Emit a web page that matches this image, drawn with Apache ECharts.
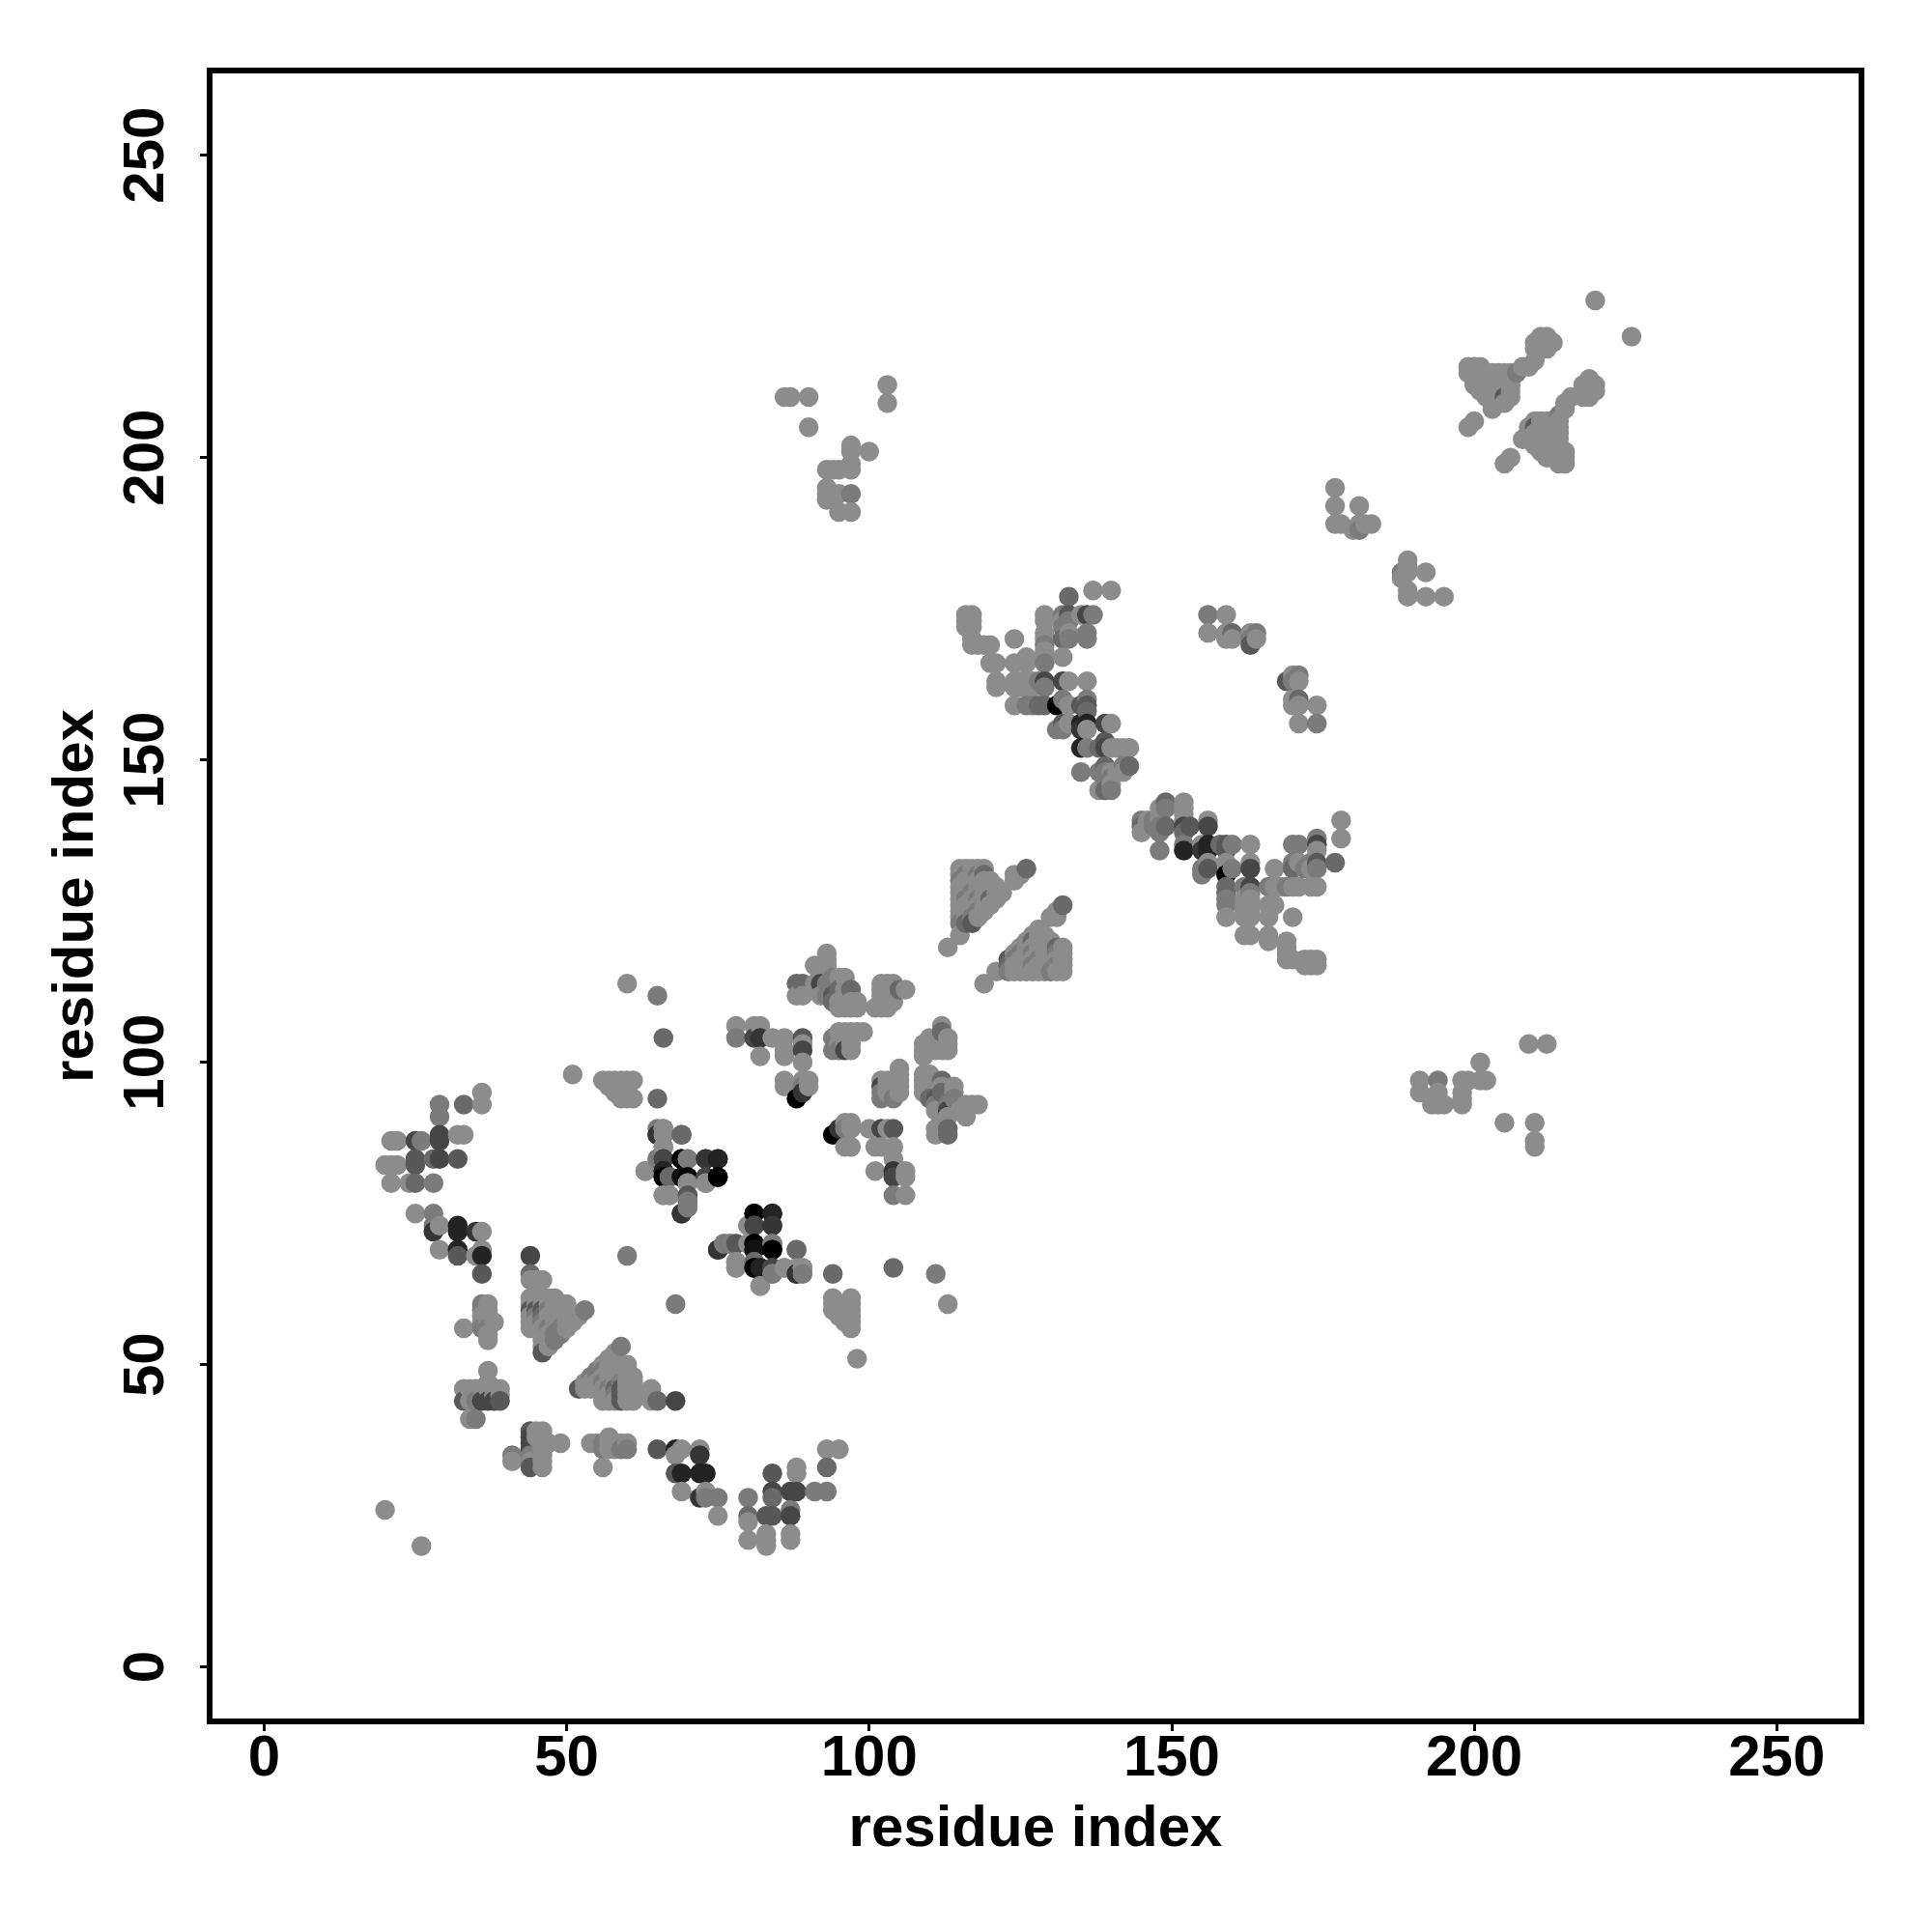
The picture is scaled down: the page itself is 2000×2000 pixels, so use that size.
<!DOCTYPE html>
<html><head><meta charset="utf-8">
<style>html,body{margin:0;padding:0;background:#fff}#c{width:2000px;height:2000px}</style>
<script src="https://cdn.jsdelivr.net/npm/echarts@6/dist/echarts.min.js"></script>
</head><body><div id="c"></div>
<script>
// [residue a, residue b, contact darkness 0..8]; the map is symmetric so each pair is listed once
const xName = 'residue index';
const yName = 'residue index';
const tickValues = [0, 50, 100, 150, 200, 250];
const isolated = [[20,26,0],[51,98,0],[60,68,1],[60,113,0],[65,111,1],[66,104,2],[65,94,2]];
const cluster25to36 = [[36,95,0],[36,93,0],[33,93,2],[29,93,1],[29,91,1],[29,88,4],[29,87,4],[32,88,0],[33,88,0],[21,87,0],[22,87,0],[25,87,4],[26,87,1],[25,84,3],[25,83,3],[28,84,2],[29,84,4],[32,84,3],[20,83,0],[21,83,0],[22,83,0],[21,80,0],[24,80,0],[25,80,2],[28,80,1],[25,75,0],[28,75,1],[28,72,5],[28,73,1],[29,73,0],[32,72,6],[32,73,6],[35,72,5],[36,72,0],[29,69,0],[32,68,3],[32,69,6],[36,68,6],[35,68,0],[36,69,0],[36,65,3]];
const cluster44to53 = [[44,68,4],[44,65,2],[44,64,0],[45,64,0],[46,64,0],[44,61,0],[44,60,0],[44,59,3],[44,58,0],[44,57,0],[44,56,0],[45,61,0],[45,60,0],[45,59,3],[45,58,1],[45,57,0],[45,56,0],[46,61,0],[46,60,0],[46,59,3],[46,58,2],[46,57,1],[46,56,0],[46,55,0],[46,54,0],[46,53,0],[46,52,3],[47,61,0],[47,60,0],[47,59,1],[47,58,0],[47,57,0],[47,56,1],[47,55,0],[47,54,0],[47,53,0],[48,61,0],[48,60,0],[48,59,0],[48,58,0],[48,57,0],[48,56,0],[48,55,1],[48,54,1],[49,60,0],[49,59,0],[49,58,0],[49,57,0],[49,56,1],[49,55,1],[50,60,0],[50,58,0],[50,57,0],[50,56,0],[51,58,0],[51,57,0],[52,58,0],[53,59,1]];
const cluster33to39 = [[33,56,0],[36,60,1],[37,60,0],[36,59,1],[37,59,0],[36,58,0],[37,58,0],[36,57,0],[37,57,0],[38,57,0],[36,56,1],[37,56,1],[37,55,0],[37,54,0],[37,49,0],[37,47,0],[33,46,0],[34,46,0],[35,46,0],[36,46,0],[37,46,0],[38,46,0],[39,46,0],[38,45,0],[39,45,0],[33,44,3],[34,44,0],[35,44,1],[36,44,4],[37,44,4],[38,44,4],[39,44,3],[34,41,0],[35,41,1]];
const cluster56to61 = [[56,97,0],[57,97,0],[58,97,0],[59,97,0],[60,97,0],[61,97,0],[57,96,0],[58,95,0],[59,95,0],[60,95,0],[59,94,0],[60,94,0],[61,94,0]];
const cluster63to75 = [[65,89,1],[66,89,0],[65,88,3],[66,88,0],[69,88,2],[66,86,0],[65,84,0],[66,84,3],[69,84,8],[70,84,1],[73,84,5],[75,84,6],[63,82,0],[66,82,6],[66,81,8],[67,81,2],[69,81,6],[70,81,8],[73,81,3],[73,80,1],[75,81,8],[66,78,0],[67,78,0],[70,80,1],[70,78,0],[70,77,3],[70,76,1],[69,75,5]];
const cluster78to90 = [[78,106,0],[78,104,1],[81,106,0],[82,106,0],[81,104,4],[82,104,5],[84,104,0],[86,104,0],[89,104,3],[82,101,0],[86,101,0],[86,102,0],[89,103,0],[89,102,4],[89,100,0],[86,97,0],[86,96,0],[89,97,0],[90,97,0],[89,96,1],[90,96,0],[89,95,5],[88,94,8]];
const cluster94to99 = [[94,104,1],[94,102,1],[95,105,0],[96,105,0],[97,105,0],[98,105,0],[99,105,0],[95,103,0],[96,103,0],[97,103,0],[95,102,1],[96,102,4],[97,102,0]];
const cluster88to98 = [[88,113,2],[89,113,2],[91,113,0],[88,111,0],[89,111,0],[91,116,0],[93,118,0],[93,117,0],[93,116,0],[92,115,0],[92,113,4],[93,113,1],[94,114,1],[95,114,0],[96,114,0],[92,111,0],[93,111,1],[94,111,3],[95,112,2],[96,112,0],[97,112,2],[94,110,2],[95,110,0],[96,110,0],[97,110,0],[98,110,0],[95,109,0],[96,109,0],[97,109,0],[98,109,0]];
const cluster101to106 = [[102,113,0],[103,113,0],[104,113,0],[105,112,2],[106,112,0],[102,112,0],[101,109,0],[102,109,0],[103,109,0],[102,111,0],[103,111,0],[103,110,0],[104,110,0]];
const cluster113to132 = [[113,119,0],[115,121,0],[124,130,0],[124,131,0],[125,131,0],[126,132,2],[115,123,1],[115,124,0],[115,125,0],[115,126,0],[115,127,0],[115,128,0],[115,129,0],[115,130,1],[115,131,0],[115,132,0],[116,123,2],[116,124,0],[116,125,0],[116,126,0],[116,127,1],[116,128,0],[116,129,0],[116,130,0],[116,131,1],[116,132,0],[117,123,3],[117,124,1],[117,125,0],[117,126,0],[117,127,0],[117,128,1],[117,129,0],[117,130,0],[117,131,0],[117,132,0],[118,124,0],[118,125,1],[118,126,0],[118,127,1],[118,128,0],[118,129,0],[118,130,0],[118,131,1],[118,132,0],[119,125,0],[119,126,0],[119,127,0],[119,128,0],[119,129,0],[119,130,0],[119,131,2],[119,132,0],[120,126,0],[120,127,2],[120,128,0],[120,129,0],[120,130,0],[121,127,0],[121,128,0],[121,129,0],[122,128,0]];
const cluster116to143 = [[116,174,0],[117,174,0],[116,173,0],[117,173,0],[116,172,0],[117,172,0],[117,170,0],[117,169,0],[118,169,0],[119,169,0],[120,169,0],[124,170,0],[120,166,0],[121,166,0],[124,166,0],[126,167,0],[126,166,0],[129,167,0],[129,166,1],[132,167,0],[129,174,0],[129,173,0],[129,171,0],[129,170,0],[129,169,1],[129,168,0],[132,174,1],[133,174,3],[132,173,0],[133,173,1],[132,172,1],[133,171,0],[132,170,2],[133,170,1],[135,174,0],[136,174,4],[137,174,1],[136,171,1],[136,170,1],[133,177,2],[137,178,0],[140,178,0],[121,163,0],[124,163,0],[125,163,0],[126,163,0],[127,163,0],[128,163,1],[129,163,4],[132,163,4],[133,163,0],[136,163,0],[121,162,0],[124,162,0],[125,162,0],[126,162,0],[127,162,0],[129,162,1],[124,159,0],[126,159,1],[127,159,1],[128,159,2],[129,159,2],[131,159,8],[132,160,1],[133,159,0],[135,159,3],[136,160,1],[136,159,3],[136,158,2],[132,156,3],[133,156,0],[131,155,1],[132,155,1],[135,156,6],[136,156,6],[135,155,5],[136,155,0],[139,156,4],[140,156,0],[135,152,6],[136,152,1],[138,152,2],[139,152,4],[140,152,0],[141,152,0],[142,152,0],[143,152,0],[139,153,3],[135,148,1],[138,148,1],[139,149,2],[140,148,0],[141,148,0],[142,148,0],[142,149,1],[143,149,2],[138,145,0],[139,145,2],[140,145,1],[140,146,0],[139,147,1],[140,147,1],[139,148,1]];
const cluster156to164 = [[156,174,1],[159,174,0],[156,171,0],[159,171,0],[160,171,2],[160,170,0],[159,170,0],[163,171,0],[164,171,1],[163,170,1],[164,170,0],[163,169,3]];
const cluster177to183 = [[177,195,0],[177,192,0],[181,192,0],[177,189,0],[178,189,0],[180,188,0],[181,188,1],[181,189,0],[182,189,0],[183,189,0]];
const cluster86to103 = [[86,210,0],[87,210,0],[90,210,0],[90,205,0],[103,212,0],[103,209,0],[97,202,0],[97,201,0],[100,201,0],[97,199,0],[93,198,0],[94,198,0],[95,198,0],[97,198,0],[93,195,0],[93,194,0],[93,193,0],[94,194,0],[95,194,0],[97,194,1],[95,191,0],[97,191,0]];
const cluster199to213 = [[199,205,0],[200,206,0],[220,226,0],[199,215,0],[200,215,0],[201,215,0],[199,214,0],[200,214,0],[201,214,0],[202,214,0],[203,214,0],[204,214,0],[205,214,0],[206,214,0],[207,214,1],[200,213,0],[201,213,0],[202,213,0],[203,213,0],[204,213,0],[205,213,0],[206,213,0],[200,212,0],[201,212,0],[202,212,0],[203,212,0],[204,212,0],[205,212,0],[206,212,0],[201,211,0],[202,211,0],[203,211,0],[204,211,0],[205,211,0],[206,211,0],[202,210,0],[203,210,0],[204,210,0],[205,210,3],[206,210,0],[203,209,0],[204,209,0],[205,209,0],[203,208,0],[208,215,0],[209,215,0],[210,216,0],[210,218,0],[210,219,0],[211,219,0],[212,218,0],[212,219,0],[212,220,0],[211,220,0],[213,219,0]];
const cluster75to89 = [[75,69,5],[76,70,1],[77,70,1],[78,70,3],[80,70,0],[81,70,8],[81,69,7],[84,70,1],[84,69,8],[88,69,2],[78,67,0],[78,66,0],[81,67,2],[81,66,8],[82,66,6],[84,66,4],[84,65,1],[86,66,0],[88,65,5],[89,66,0],[82,63,0]];
const cluster80to84 = [[73,80,0],[73,81,4],[73,84,5],[75,81,8],[75,84,6]];

const pairs = [].concat(isolated, cluster25to36, cluster44to53, cluster33to39, cluster56to61, cluster63to75, cluster75to89, cluster80to84, cluster78to90, cluster94to99, cluster88to98, cluster101to106, cluster113to132, cluster116to143, cluster156to164, cluster177to183, cluster86to103, cluster199to213);
const points = [];
pairs.forEach(p => { points.push([p[0], p[1], p[2]]); points.push([p[1], p[0], p[2]]); });
points.sort((u, v) => u[0] - v[0] || v[1] - u[1]);

const font = {fontFamily: '"Liberation Sans", Arial, sans-serif', fontWeight: 'bold', fontSize: 60, color: '#000'};
const chart = echarts.init(document.getElementById('c'), null, {renderer: 'canvas'});
function axis(extra) {
  return Object.assign({
    type: 'value', min: -9, max: 264, name: '', nameLocation: 'middle',
    nameTextStyle: font, splitLine: {show: false},
    axisLine: {show: false, onZero: false},
    axisTick: {show: true, length: 10, lineStyle: {color: '#000', width: 3}, customValues: tickValues},
    axisLabel: Object.assign({customValues: tickValues, hideOverlap: false, showMinLabel: true, showMaxLabel: true}, font)
  }, extra);
}
const xa = axis({name: xName, nameGap: 82});
xa.axisLabel.margin = 9;
const ya = axis({name: yName, nameGap: 108, nameRotate: 90});
ya.axisLabel.rotate = 90; ya.axisLabel.margin = 35;
chart.setOption({
  animation: false, backgroundColor: '#fff',
  grid: {left: 217, top: 73, width: 1710, height: 1709, show: true, borderColor: '#000', borderWidth: 6, backgroundColor: 'transparent', containLabel: false},
  xAxis: xa, yAxis: ya,
  visualMap: {show: false, type: 'continuous', dimension: 2, min: 0, max: 8, seriesIndex: 0, inRange: {color: ['#8c8c8c', '#000000']}},
  series: [{type: 'scatter', data: points, symbol: 'circle', symbolSize: 20.5, large: false, progressive: 0, itemStyle: {opacity: 1}, z: 1, clip: true}]
});
</script></body></html>
